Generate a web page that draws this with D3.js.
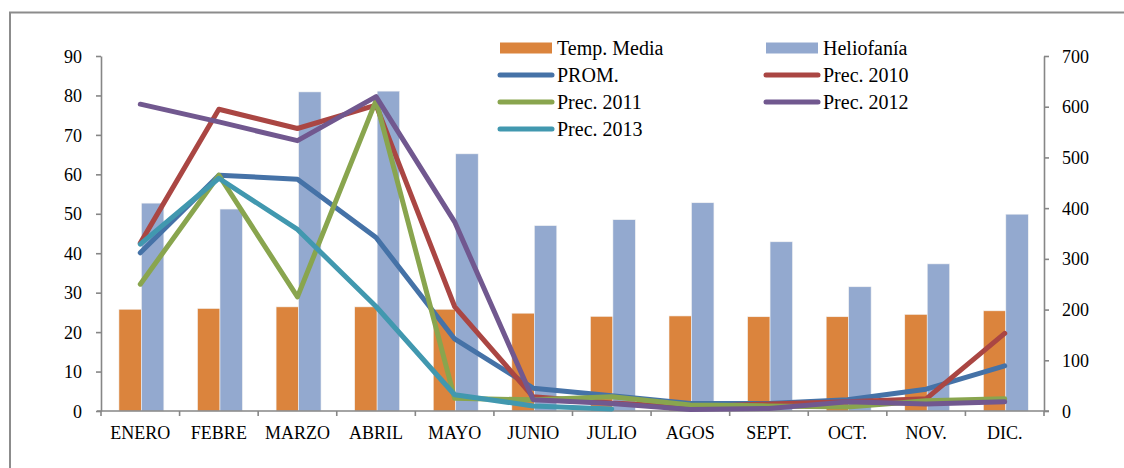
<!DOCTYPE html>
<html>
<head>
<meta charset="utf-8">
<script src="https://cdn.jsdelivr.net/npm/d3@7"></script>
<style>
  body { margin: 0; background: #fff; }
  svg { display: block; }
  svg text { font-family: "Liberation Serif", "Times New Roman", serif; }
</style>
</head>
<body>
<script>
// Data
const months = ["ENERO", "FEBRE", "MARZO", "ABRIL", "MAYO", "JUNIO", "JULIO", "AGOS", "SEPT.", "OCT.", "NOV.", "DIC."];
const tempMedia = [25.8, 26.0, 26.4, 26.4, 25.8, 24.8, 24.0, 24.1, 23.9, 23.9, 24.5, 25.4];
const heliofania = [52.7, 51.2, 80.9, 81.1, 65.2, 47.0, 48.5, 52.8, 42.9, 31.5, 37.3, 49.9];
const prom = [312, 465, 457, 342, 142, 45, 30, 15, 15, 22, 43, 89];
const prec2010 = [331, 595, 557, 603, 206, 28, 16, 8, 14, 18, 24, 153];
const prec2011 = [250, 465, 225, 612, 25, 22, 28, 12, 10, 8, 20, 24];
const prec2012 = [605, 570, 533, 620, 373, 22, 15, 3, 5, 18, 14, 18];
const prec2013 = [329, 459, 358, 206, 32, 10, 4, null, null, null, null, null];
const leftTicks = [0, 10, 20, 30, 40, 50, 60, 70, 80, 90];
const rightTicks = [0, 100, 200, 300, 400, 500, 600, 700];

const barSeries = [
  { name: "Temp. Media", values: tempMedia, color: "#DB843D" },
  { name: "Heliofanía", values: heliofania, color: "#93A9CF" },
];
const lineSeries = [
  { name: "PROM.", values: prom, color: "#4572A7" },
  { name: "Prec. 2010", values: prec2010, color: "#AA4643" },
  { name: "Prec. 2011", values: prec2011, color: "#89A54E" },
  { name: "Prec. 2012", values: prec2012, color: "#71588F" },
  { name: "Prec. 2013", values: prec2013, color: "#4198AF" },
];

const fullWidth = 1124;
const fullHeight = 468;
const plot = { left: 101, right: 1044, top: 56, bottom: 411 };
const axisColor = "#868686";
const serif = '"Liberation Serif", "Times New Roman", serif';

const svg = d3
  .select("body")
  .append("svg")
  .attr("width", fullWidth)
  .attr("height", fullHeight);

// Outer frame (only top and left edges are visible)
svg
  .append("path")
  .attr("d", `M10,${fullHeight} V12.5 H${fullWidth}`)
  .attr("fill", "none")
  .attr("stroke", "#8c8c8c")
  .attr("stroke-width", 2);

// Scales
const x = d3.scaleBand().domain(months).range([plot.left, plot.right]);
const bw = x.bandwidth();
const xBar = d3
  .scaleBand()
  .domain(barSeries.map((d) => d.name))
  .range([bw * 0.228, bw * 0.8]);
const yLeft = d3.scaleLinear().domain([0, 90]).range([plot.bottom, plot.top]);
const yRight = d3.scaleLinear().domain([0, 700]).range([plot.bottom, plot.top]);

// Bars
barSeries.forEach((s) => {
  svg
    .append("g")
    .selectAll("rect")
    .data(s.values)
    .enter()
    .append("rect")
    .attr("x", (d, i) => x(months[i]) + xBar(s.name))
    .attr("y", (d) => yLeft(d))
    .attr("width", xBar.bandwidth())
    .attr("height", (d) => yLeft(0) - yLeft(d))
    .attr("fill", s.color)
    .attr("stroke", "#f4f4f4")
    .attr("stroke-width", 0.6);
});

// Axes
const styleAxis = (g) => {
  g.attr("font-family", serif).attr("font-size", 18);
  g.selectAll("path, line").attr("stroke", axisColor).attr("stroke-width", 1.6);
  g.selectAll("text").attr("fill", "#000").attr("dy", "0.34em");
};

svg
  .append("g")
  .attr("transform", `translate(${plot.left},0)`)
  .call(d3.axisLeft(yLeft).tickValues(leftTicks).tickSize(5).tickSizeOuter(0).tickPadding(14))
  .call(styleAxis);

svg
  .append("g")
  .attr("transform", `translate(${plot.right},0)`)
  .call(d3.axisRight(yRight).tickValues(rightTicks).tickSize(5).tickSizeOuter(0).tickPadding(13))
  .call(styleAxis);

// x axis with ticks on band edges
const xAxisG = svg
  .append("g")
  .attr("transform", `translate(0,${plot.bottom})`)
  .attr("font-family", serif)
  .attr("font-size", 18);
xAxisG
  .append("line")
  .attr("x1", plot.left - 4)
  .attr("x2", plot.right + 5)
  .attr("stroke", axisColor)
  .attr("stroke-width", 1.6);
xAxisG
  .selectAll(".tick")
  .data(months.concat(["end"]))
  .enter()
  .append("line")
  .attr("x1", (d, i) => (i < months.length ? x(d) : x(months[months.length - 1]) + bw))
  .attr("x2", (d, i) => (i < months.length ? x(d) : x(months[months.length - 1]) + bw))
  .attr("y1", 0)
  .attr("y2", 5)
  .attr("stroke", axisColor)
  .attr("stroke-width", 1.6);
xAxisG
  .selectAll("text")
  .data(months)
  .enter()
  .append("text")
  .attr("x", (d) => x(d) + bw / 2)
  .attr("y", 28)
  .attr("text-anchor", "middle")
  .text((d) => d);

// Lines
const line = d3
  .line()
  .defined((d) => d != null)
  .x((d, i) => x(months[i]) + bw / 2)
  .y((d) => yRight(d));

lineSeries.forEach((s) => {
  svg
    .append("path")
    .datum(s.values)
    .attr("d", line)
    .attr("fill", "none")
    .attr("stroke", s.color)
    .attr("stroke-width", 5)
    .attr("stroke-linejoin", "round")
    .attr("stroke-linecap", "round");
});

// Legend
const legendItems = [
  { item: barSeries[0], type: "bar", x: 500, y: 48 },
  { item: barSeries[1], type: "bar", x: 766, y: 48 },
  { item: lineSeries[0], type: "line", x: 500, y: 75 },
  { item: lineSeries[1], type: "line", x: 766, y: 75 },
  { item: lineSeries[2], type: "line", x: 500, y: 102 },
  { item: lineSeries[3], type: "line", x: 766, y: 102 },
  { item: lineSeries[4], type: "line", x: 500, y: 129 },
];

const legend = svg.append("g").attr("id", "legend").attr("font-family", serif);
legendItems.forEach((d) => {
  const g = legend.append("g").attr("transform", `translate(${d.x},${d.y})`);
  if (d.type === "bar") {
    g.append("rect")
      .attr("x", 0)
      .attr("y", -5.5)
      .attr("width", 52)
      .attr("height", 11)
      .attr("fill", d.item.color);
  } else {
    g.append("line")
      .attr("x1", 0)
      .attr("x2", 52)
      .attr("stroke", d.item.color)
      .attr("stroke-width", 5)
      .attr("stroke-linecap", "round");
  }
  g.append("text")
    .attr("x", 57)
    .attr("dy", "0.34em")
    .attr("font-size", 20)
    .text(d.item.name);
});
</script>
</body>
</html>
